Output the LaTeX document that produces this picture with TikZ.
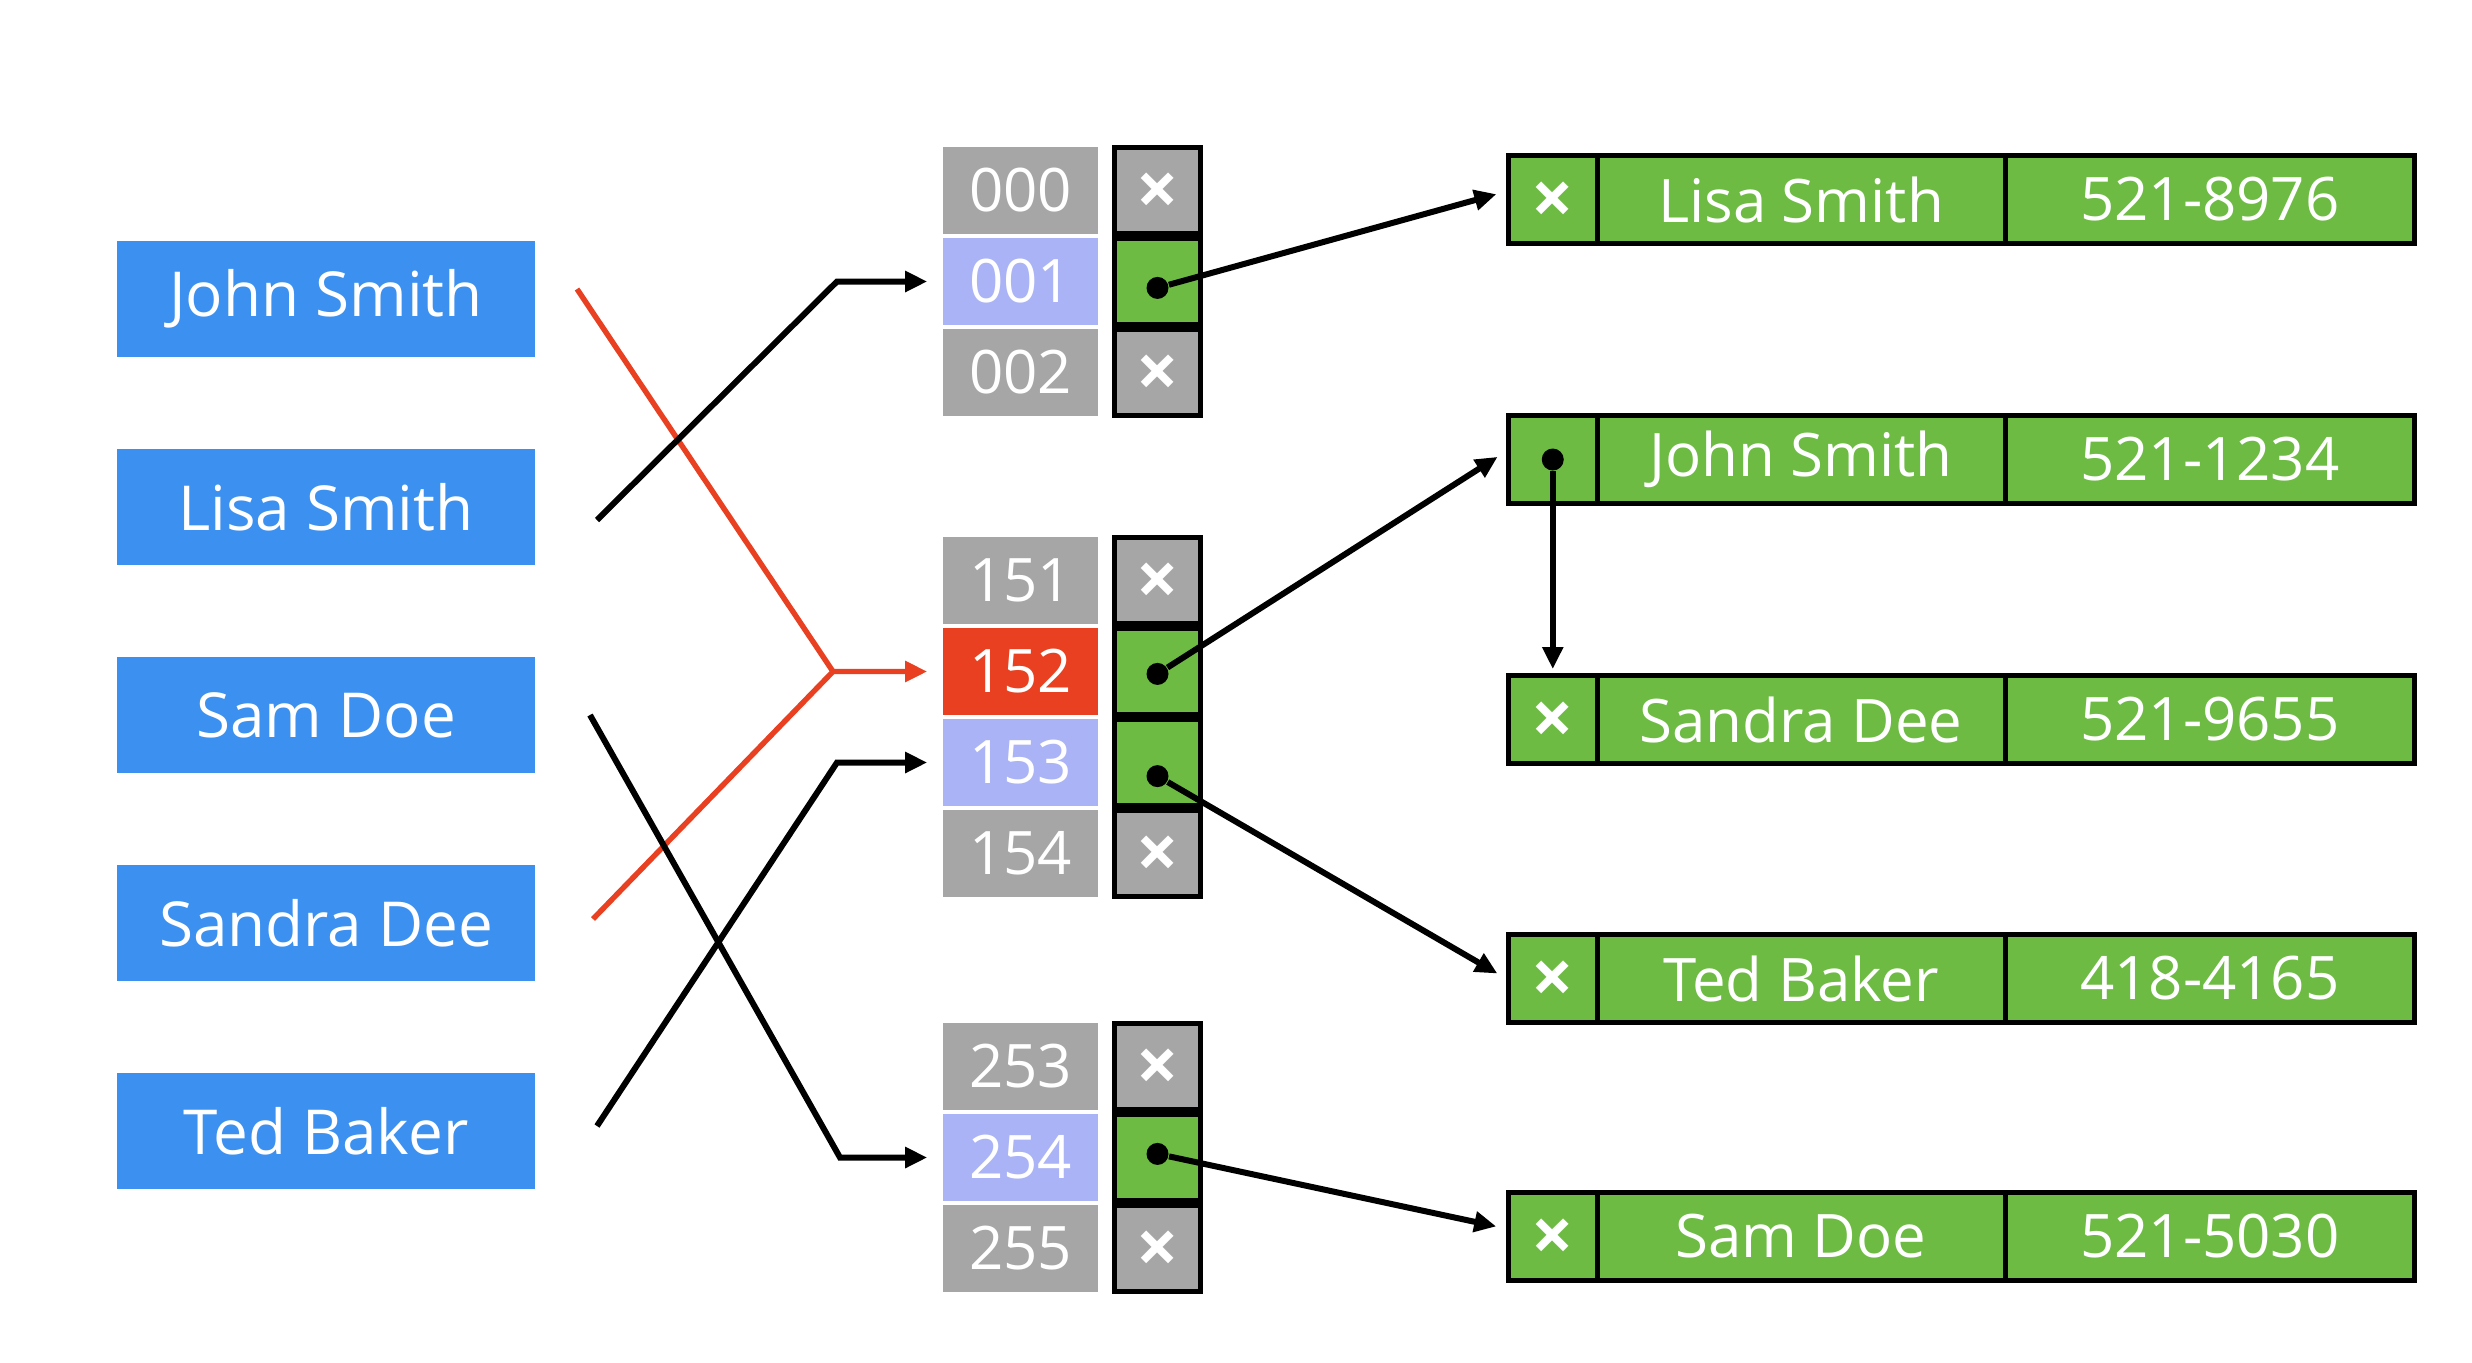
\documentclass[tikz,border=0pt]{standalone}
\usepackage{fontspec}
\setmainfont{Open Sans}
\usepackage{tikz}
\usetikzlibrary{arrows.meta}

\definecolor{nameblue}{RGB}{60,145,240}
\definecolor{idxgray}{RGB}{166,166,166}
\definecolor{idxblue}{RGB}{170,179,245}
\definecolor{hashred}{RGB}{232,64,32}
\definecolor{cellgreen}{RGB}{110,187,68}

\newcommand{\nil}{\raisebox{-1pt}[\height][\depth]{\fontsize{18.5}{18.5}\selectfont\bfseries ×}}

\tikzset{
	person/.style={fill=nameblue, text=white, minimum width=104.5pt, minimum height=29pt, inner sep=0pt, font=\fontsize{15.5}{18}\selectfont},
	idx/.style={fill=idxgray, text=white, minimum width=38.75pt, minimum height=21.75pt, inner sep=0pt},
	hit/.style={idx, fill=idxblue},
	clash/.style={idx, fill=hashred},
	ptr/.style={draw=black, line width=1.25pt, fill=idxgray, text=white, minimum width=21.5pt, minimum height=21.5pt, inner sep=0pt},
	full/.style={ptr, fill=cellgreen},
	rec/.style={draw=black, line width=1.25pt, fill=cellgreen, text=white, minimum height=22pt, inner sep=0pt},
	dot/.style={circle, fill=black, inner sep=0pt, minimum size=5.5pt},
	link/.style={line width=1.5pt, -{Triangle[length=5.5pt,width=5pt]}},
	hot/.style={link, draw=hashred, line width=1.35pt}
}

\begin{document}
\begin{tikzpicture}[x=0.25pt, y=-0.25pt, font=\fontsize{15}{18}\selectfont]

	\useasboundingbox (0,0) rectangle (2472,1362);

	\node[person] (john) at (326,299) {John Smith};
	\node[person] (lisa) at (326,507) {Lisa Smith};
	\node[person] (sam) at (326,715) {Sam Doe};
	\node[person] (sandra) at (326,923) {Sandra Dee};
	\node[person] (ted) at (326,1131) {Ted Baker};

	\node[idx] (i000) at (1020.5,190.5) {000};
	\node[hit] (i001) at (1020.5,281.5) {001};
	\node[idx] (i002) at (1020.5,372.5) {002};
	\node[idx] (i151) at (1020.5,580.5) {151};
	\node[clash] (i152) at (1020.5,671.5) {152};
	\node[hit] (i153) at (1020.5,762.5) {153};
	\node[idx] (i154) at (1020.5,853.5) {154};
	\node[idx] (i253) at (1020.5,1066.5) {253};
	\node[hit] (i254) at (1020.5,1157.5) {254};
	\node[idx] (i255) at (1020.5,1248.5) {255};

	\node[ptr] (p000) at (1157.5,190.5) {\nil};
	\node[full] (p001) at (1157.5,281.5) {};
	\node[ptr] (p002) at (1157.5,372.5) {\nil};
	\node[ptr] (p151) at (1157.5,580.5) {\nil};
	\node[full] (p152) at (1157.5,671.5) {};
	\node[full] (p153) at (1157.5,762.5) {};
	\node[ptr] (p154) at (1157.5,853.5) {\nil};
	\node[ptr] (p253) at (1157.5,1066.5) {\nil};
	\node[full] (p254) at (1157.5,1157.5) {};
	\node[ptr] (p255) at (1157.5,1248.5) {\nil};

	\node[rec, minimum width=22.125pt] (r1a) at (1552.75,199.5) {\nil};
	\node[rec, minimum width=102pt] (r1b) at (1801,199.5) {Lisa Smith};
	\node[rec, minimum width=102.375pt] (r1c) at (2209.75,199.5) {521-8976};
	\node[rec, minimum width=22.125pt] (r2a) at (1552.75,459.5) {};
	\node[rec, minimum width=102pt] (r2b) at (1801,459.5) {John Smith};
	\node[rec, minimum width=102.375pt] (r2c) at (2209.75,459.5) {521-1234};
	\node[rec, minimum width=22.125pt] (r3a) at (1552.75,719.5) {\nil};
	\node[rec, minimum width=102pt] (r3b) at (1801,719.5) {Sandra Dee};
	\node[rec, minimum width=102.375pt] (r3c) at (2209.75,719.5) {521-9655};
	\node[rec, minimum width=22.125pt] (r4a) at (1552.75,978.5) {\nil};
	\node[rec, minimum width=102pt] (r4b) at (1801,978.5) {Ted Baker};
	\node[rec, minimum width=102.375pt] (r4c) at (2209.75,978.5) {418-4165};
	\node[rec, minimum width=22.125pt] (r5a) at (1552.75,1236.5) {\nil};
	\node[rec, minimum width=102pt] (r5b) at (1801,1236.5) {Sam Doe};
	\node[rec, minimum width=102.375pt] (r5c) at (2209.75,1236.5) {521-5030};

	\node[dot] (d001) at ([yshift=-1.6pt]p001.center) {};
	\node[dot] (d152) at ([yshift=-0.6pt]p152.center) {};
	\node[dot] (d153) at ([yshift=-3.4pt]p153.center) {};
	\node[dot] (d254) at ([yshift=0.9pt]p254.center) {};
	\node[dot] (dnext) at (r2a.center) {};

	\coordinate (johnEnd) at (577,289);
	\coordinate (lisaEnd) at (597,520);
	\coordinate (samEnd) at (590,715);
	\coordinate (sandraEnd) at (593,919);
	\coordinate (tedEnd) at (597,1126);

	\coordinate (bend001) at (837,281.5);
	\coordinate (bend152) at (833,671.5);
	\coordinate (bend153) at (837,762.5);
	\coordinate (bend254) at (840,1157.5);

	\draw[hot, -] (johnEnd) -- (bend152);
	\draw[hot, shorten >=3.75pt] (sandraEnd) -- (bend152) -- (i152.west);
	\draw[link, shorten >=3.75pt] (lisaEnd) -- (bend001) -- (i001.west);
	\draw[link, shorten >=3.75pt] (tedEnd) -- (bend153) -- (i153.west);
	\draw[link, shorten >=3.75pt] (samEnd) -- (bend254) -- (i254.west);

	\draw[link, shorten >=2.5pt] (d001) -- ([yshift=2pt]r1a.west);
	\draw[link, shorten >=2.5pt] (d152) -- ([yshift=2pt]r2a.west);
	\draw[link, shorten >=2.5pt] (d153) -- (r4a.west);
	\draw[link, shorten >=2.5pt] (d254) -- ([yshift=2pt]r5a.west);
	\draw[link, shorten >=1pt] (dnext) -- (r3a.north);

\end{tikzpicture}
\end{document}
